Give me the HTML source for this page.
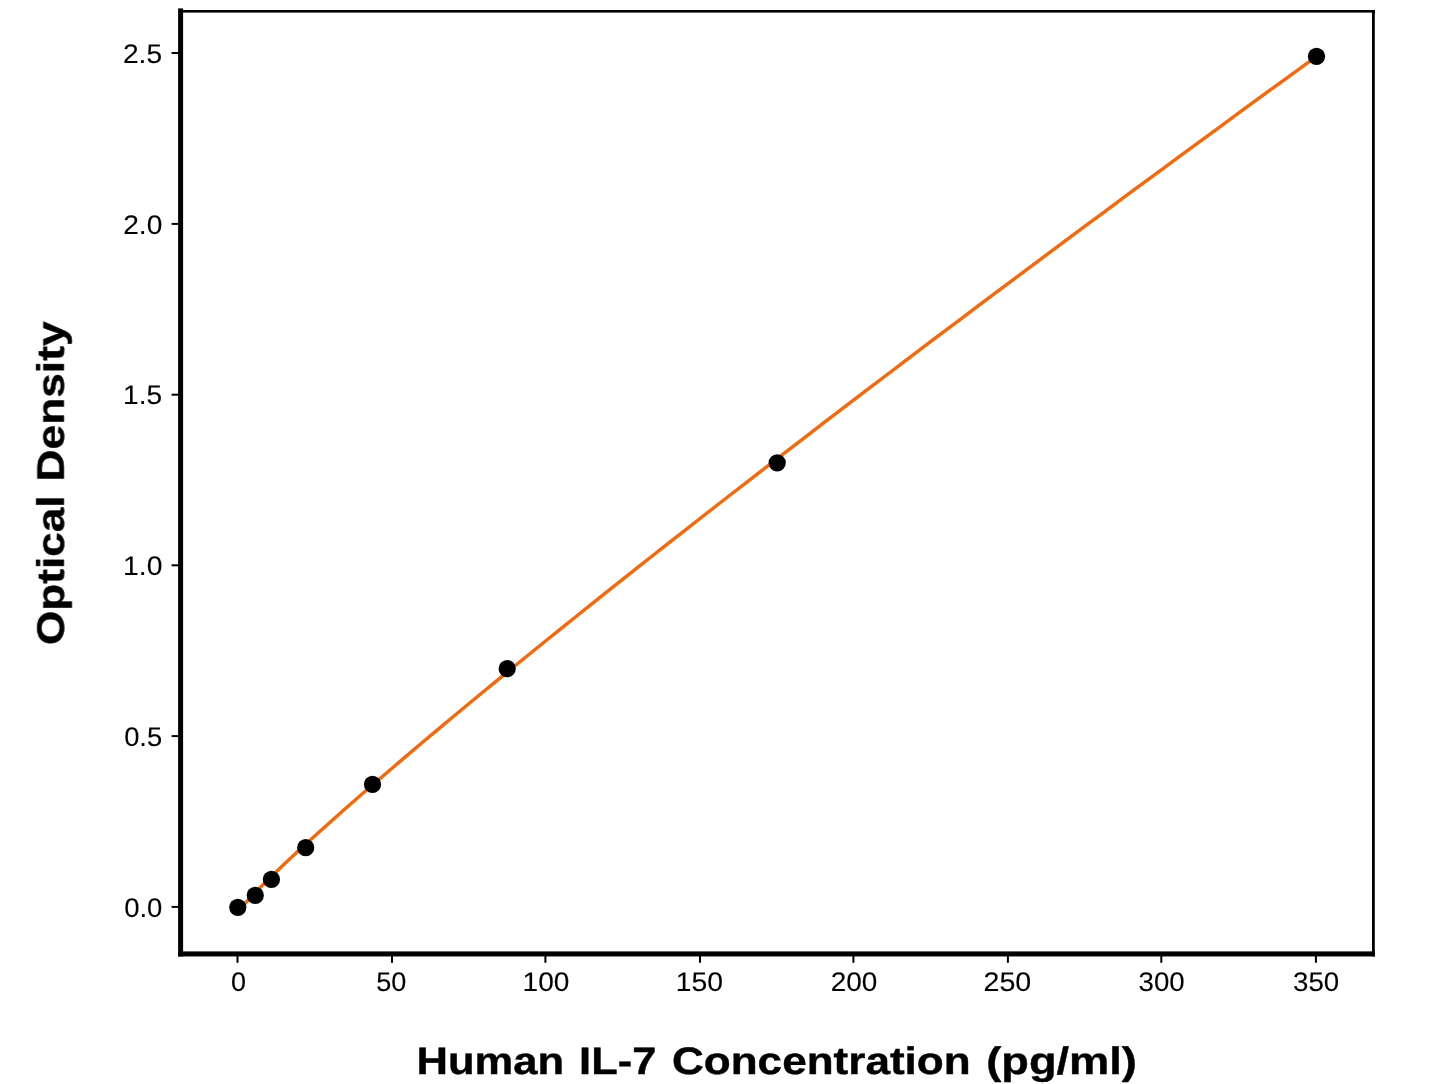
<!DOCTYPE html>
<html lang="en">
<head>
<meta charset="utf-8">
<title>Human IL-7 Standard Curve</title>
<style>
html,body{margin:0;padding:0;background:#fff;}
body{width:1445px;height:1084px;overflow:hidden;font-family:"Liberation Sans",sans-serif;}
svg{display:block;will-change:transform;}
.labels{filter:grayscale(1);}
text{font-family:"Liberation Sans",sans-serif;fill:#000;text-rendering:geometricPrecision;}
.tick{font-size:26px;stroke:#000;stroke-width:0.1px;}
.axl{font-size:38px;font-weight:bold;stroke:#000;stroke-width:0.4px;stroke-linejoin:round;}
</style>
</head>
<body>
<svg width="1445" height="1084" viewBox="0 0 1445 1084">
<rect x="0" y="0" width="1445" height="1084" fill="#ffffff"/>
<polyline points="237.60,911.82 253.01,894.57 268.43,879.18 283.84,864.43 299.25,850.08 314.66,836.02 330.08,822.19 345.49,808.54 360.90,795.05 376.32,781.70 391.73,768.46 407.14,755.34 422.56,742.31 437.97,729.37 453.38,716.52 468.79,703.73 484.21,691.02 499.62,678.37 515.03,665.79 530.45,653.26 545.86,640.79 561.27,628.36 576.69,615.99 592.10,603.66 607.51,591.38 622.92,579.14 638.34,566.94 653.75,554.78 669.16,542.65 684.58,530.57 699.99,518.51 715.40,506.50 730.82,494.51 746.23,482.55 761.64,470.63 777.05,458.73 792.47,446.87 807.88,435.03 823.29,423.22 838.71,411.43 854.12,399.67 869.53,387.94 884.95,376.23 900.36,364.54 915.77,352.88 931.18,341.23 946.60,329.62 962.01,318.02 977.42,306.44 992.84,294.89 1008.25,283.35 1023.66,271.83 1039.08,260.34 1054.49,248.86 1069.90,237.40 1085.31,225.96 1100.73,214.54 1116.14,203.13 1131.55,191.74 1146.97,180.37 1162.38,169.02 1177.79,157.68 1193.21,146.36 1208.62,135.05 1224.03,123.76 1239.44,112.49 1254.86,101.23 1270.27,89.99 1285.68,78.76 1301.10,67.54 1316.51,56.34" fill="none" stroke="#F3690D" stroke-width="3.4" stroke-linejoin="round" stroke-linecap="butt"/>
<g fill="#000000">
<circle cx="237.80" cy="907.30" r="8.62"/>
<circle cx="255.25" cy="895.40" r="8.62"/>
<circle cx="271.40" cy="879.45" r="8.62"/>
<circle cx="305.70" cy="847.70" r="8.62"/>
<circle cx="372.50" cy="784.40" r="8.62"/>
<circle cx="507.20" cy="668.70" r="8.62"/>
<circle cx="777.20" cy="462.85" r="8.62"/>
<circle cx="1316.50" cy="56.30" r="8.62"/>
</g>
<g fill="#000000">
<rect x="236.50" y="952.40" width="2.0" height="10.40"/>
<rect x="391.00" y="952.40" width="2.0" height="10.40"/>
<rect x="544.40" y="952.40" width="2.0" height="10.40"/>
<rect x="699.00" y="952.40" width="2.0" height="10.40"/>
<rect x="852.40" y="952.40" width="2.0" height="10.40"/>
<rect x="1006.90" y="952.40" width="2.0" height="10.40"/>
<rect x="1160.30" y="952.40" width="2.0" height="10.40"/>
<rect x="1314.90" y="952.40" width="2.0" height="10.40"/>
<rect x="171.60" y="905.90" width="10.50" height="2.0"/>
<rect x="171.60" y="735.10" width="10.50" height="2.0"/>
<rect x="171.60" y="564.30" width="10.50" height="2.0"/>
<rect x="171.60" y="393.70" width="10.50" height="2.0"/>
<rect x="171.60" y="222.90" width="10.50" height="2.0"/>
<rect x="171.60" y="52.00" width="10.50" height="2.0"/>
</g>
<g fill="#000000">
<rect x="179.10" y="10.00" width="1195.70" height="2.60"/>
<rect x="1372.00" y="10.00" width="2.80" height="946.45"/>
<rect x="178.10" y="8.40" width="5.00" height="948.05"/>
<rect x="178.10" y="951.40" width="1196.90" height="5.05"/>
</g>
<g class="labels">
<text class="tick" transform="matrix(1.0362 0.0000 0.0000 1.0370 231.009 990.600)">0</text>
<text class="tick" transform="matrix(1.0408 0.0000 0.0000 1.0370 376.153 990.600)">50</text>
<text class="tick" transform="matrix(1.0790 0.0000 0.0000 1.0370 522.573 990.600)">100</text>
<text class="tick" transform="matrix(1.0906 0.0000 0.0000 1.0370 675.831 990.600)">150</text>
<text class="tick" transform="matrix(1.0746 0.0000 0.0000 1.0370 830.670 990.600)">200</text>
<text class="tick" transform="matrix(1.1000 0.0000 0.0000 1.0370 983.530 990.600)">250</text>
<text class="tick" transform="matrix(1.0631 0.0000 0.0000 1.0370 1138.592 990.600)">300</text>
<text class="tick" transform="matrix(1.0644 0.0000 0.0000 1.0370 1293.017 990.600)">350</text>
<text class="tick" transform="matrix(1.0572 0.0000 0.0000 1.0370 124.141 916.600)">0.0</text>
<text class="tick" transform="matrix(1.0518 0.0000 0.0000 1.0370 124.127 745.800)">0.5</text>
<text class="tick" transform="matrix(1.0881 0.0000 0.0000 1.0370 123.101 575.000)">1.0</text>
<text class="tick" transform="matrix(1.0807 0.0000 0.0000 1.0370 123.043 404.400)">1.5</text>
<text class="tick" transform="matrix(1.0823 0.0000 0.0000 1.0370 123.199 233.600)">2.0</text>
<text class="tick" transform="matrix(1.0816 0.0000 0.0000 1.0370 122.974 62.700)">2.5</text>
<text class="axl" transform="matrix(1.0000 0.0000 0.0000 1.0060 0.000 1074.450)"><tspan x="416.52" textLength="147.66" lengthAdjust="spacingAndGlyphs">Human</tspan> <tspan x="579.14" textLength="77.20" lengthAdjust="spacingAndGlyphs">IL-7</tspan> <tspan x="671.96" textLength="298.71" lengthAdjust="spacingAndGlyphs">Concentration</tspan> <tspan x="986.22" textLength="150.72" lengthAdjust="spacingAndGlyphs">(pg/ml)</tspan></text>
<text class="axl" transform="matrix(0.0000 -1.0000 1.0060 0.0000 64.000 1084.000)"><tspan x="438.96" textLength="149.52" lengthAdjust="spacingAndGlyphs">Optical</tspan> <tspan x="602.58" textLength="159.95" lengthAdjust="spacingAndGlyphs">Density</tspan></text>
</g>
</svg>
</body>
</html>
